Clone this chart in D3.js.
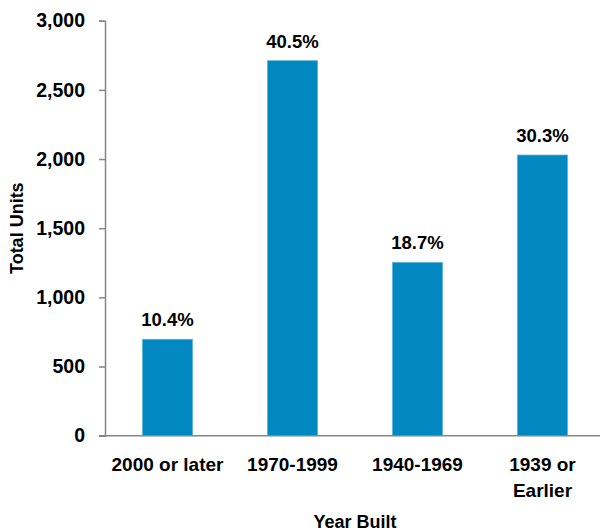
<!DOCTYPE html>
<html>
<head>
<meta charset="utf-8">
<script src="https://cdn.jsdelivr.net/npm/d3@7"></script>
<style>
  html, body { margin: 0; padding: 0; background: #fff; }
  svg { display: block; }
  text { font-family: "Liberation Sans", Arial, sans-serif; font-weight: bold; fill: #000; }
</style>
</head>
<body>
<svg id="chart" width="600" height="531"></svg>
<script>
const categories = ["2000 or later", "1970-1999", "1940-1969", "1939 or\nEarlier"];
const units = [697, 2711, 1253, 2029];
const percentLabels = ["10.4%", "40.5%", "18.7%", "30.3%"];
const yTicks = [0, 500, 1000, 1500, 2000, 2500, 3000];

const svg = d3.select("#chart");
const x = d3.scaleBand().domain(categories).range([105, 605]).paddingInner(0.6).paddingOuter(0.3);
const y = d3.scaleLinear().domain([0, 3000]).range([435.7, 20.7]);

// bars
svg.append("g").selectAll("rect").data(units).join("rect")
  .attr("x", (d, i) => x(categories[i]))
  .attr("width", x.bandwidth())
  .attr("y", d => y(d))
  .attr("height", d => y(0) - y(d))
  .attr("fill", "#0288C0")
  .attr("stroke", "#5BB3DA")
  .attr("stroke-width", 0.8);

// y axis
const yAxis = svg.append("g").attr("transform", "translate(105,0)")
  .call(d3.axisLeft(y).tickValues(yTicks).tickSize(6).tickPadding(14).tickFormat(d3.format(",")));
yAxis.select(".domain").attr("stroke", "#868686").attr("stroke-width", 1.5);
yAxis.selectAll(".tick line").attr("stroke", "#868686").attr("stroke-width", 1.5);
yAxis.selectAll(".tick text").style("font-size", "19.5px").style("font-family", "Liberation Sans, Arial, sans-serif").style("font-weight", "bold").attr("fill", "#000");

// x axis
const xAxis = svg.append("g").attr("transform", `translate(0,${y(0)})`)
  .call(d3.axisBottom(x).tickSize(0).tickFormat(""));
xAxis.select(".domain").attr("d", `M99,0H600`).attr("stroke", "#868686").attr("stroke-width", 1.5);

// category labels (multi-line)
const catG = svg.append("g");
categories.forEach(c => {
  const lines = c.split("\n");
  const t = catG.append("text")
    .attr("x", x(c) + x.bandwidth() / 2)
    .attr("y", 471)
    .attr("text-anchor", "middle")
    .style("font-size", "19px");
  lines.forEach((l, j) => {
    t.append("tspan").attr("x", x(c) + x.bandwidth() / 2).attr("dy", j === 0 ? 0 : 25.5).text(l);
  });
});

// value labels
svg.append("g").selectAll("text").data(units).join("text")
  .attr("x", (d, i) => x(categories[i]) + x.bandwidth() / 2)
  .attr("y", d => y(d) - 13)
  .attr("text-anchor", "middle")
  .style("font-size", "18.5px")
  .text((d, i) => percentLabels[i]);

// axis titles
svg.append("text")
  .attr("transform", `translate(23,${(y(0) + y(3000)) / 2}) rotate(-90)`)
  .attr("text-anchor", "middle")
  .style("font-size", "18px")
  .text("Total Units");

svg.append("text")
  .attr("x", (105 + 605) / 2)
  .attr("y", 528)
  .attr("text-anchor", "middle")
  .style("font-size", "18px")
  .text("Year Built");
</script>
</body>
</html>
